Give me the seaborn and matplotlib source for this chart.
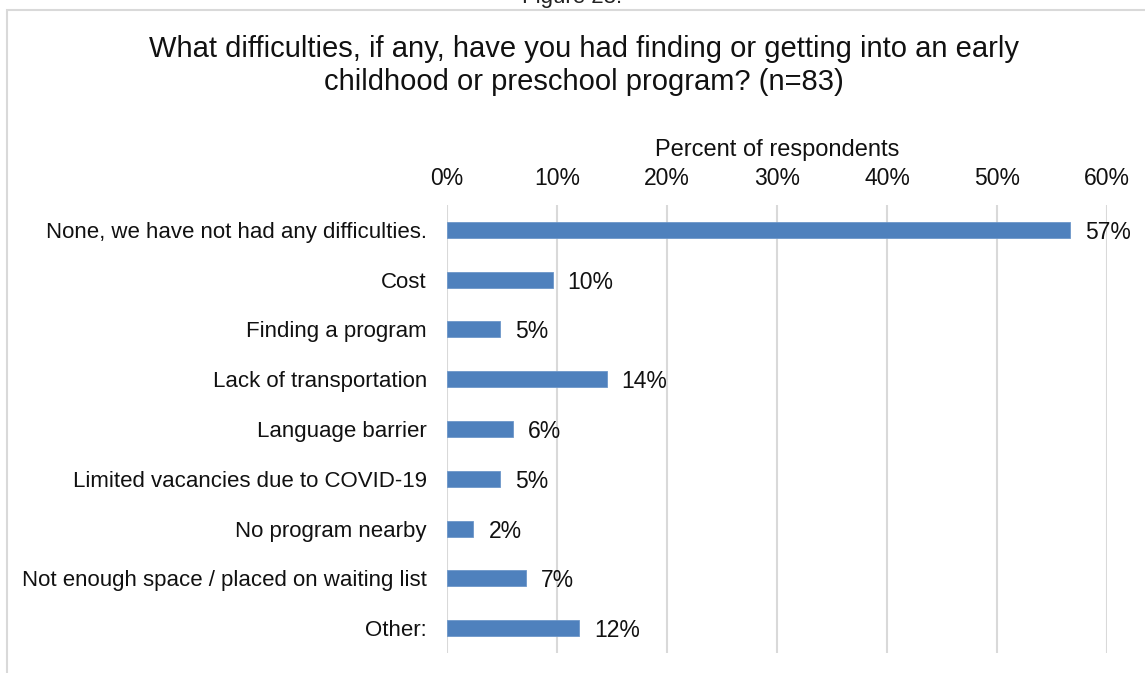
import matplotlib
matplotlib.use("Agg")
import matplotlib.pyplot as plt
import seaborn as sns
import pandas as pd
from matplotlib.ticker import FuncFormatter
from matplotlib.patches import Rectangle

categories = [
    "None, we have not had any difficulties.",
    "Cost",
    "Finding a program",
    "Lack of transportation",
    "Language barrier",
    "Limited vacancies due to COVID-19",
    "No program nearby",
    "Not enough space / placed on waiting list",
    "Other:",
]
percent = [56.6, 9.6, 4.8, 14.5, 6.0, 4.8, 2.4, 7.2, 12.0]
x_ticks = [0, 10, 20, 30, 40, 50, 60]

df = pd.DataFrame({"category": categories, "percent": percent})

sns.set_theme(style="white")
plt.rcParams["font.family"] = ["Liberation Sans", "DejaVu Sans"]

W, H = 1145, 673
fig = plt.figure(figsize=(W / 100, H / 100), dpi=100)
fig.patch.set_facecolor("white")

# outer frame of the chart area
fig.add_artist(Rectangle((7 / W, -0.1), 1.2, 1 - 10 / H + 0.1,
                         transform=fig.transFigure, fill=False,
                         edgecolor="#d9d9d9", linewidth=1.5))
fig.text(572 / W, 1 + 2 / H, "Figure 28.", ha="center", va="center",
         fontsize=16, color="#222222")

ax = fig.add_axes([447 / W, 1 - 653 / H, 660 / W, 448 / H])
sns.barplot(data=df, x="percent", y="category", orient="h", color="#4f81bd",
            width=0.32, saturation=1, ax=ax, edgecolor="#6d97c9", linewidth=0.6,
            zorder=3)

ax.set_xlim(0, 60)
ax.set_ylim(8.5, -0.5)
ax.set_xticks(x_ticks)
ax.xaxis.set_major_formatter(FuncFormatter(lambda v, p: f"{v:.0f}%"))
ax.xaxis.tick_top()
ax.xaxis.set_label_position("top")
ax.set_xlabel("Percent of respondents", fontsize=17, color="#111111", labelpad=8)
ax.set_ylabel("")
ax.tick_params(axis="x", length=0, pad=11, labelsize=16.5, labelcolor="#111111")
ax.tick_params(axis="y", length=0, pad=14.5, labelsize=16, labelcolor="#111111")
ax.grid(axis="x", color="#d9d9d9", linewidth=1.5, zorder=0)
ax.grid(axis="y", visible=False)
for s in ax.spines.values():
    s.set_visible(False)

for i, v in enumerate(percent):
    ax.text(v + 15 / 11, i, f"{v:.0f}%", va="center_baseline", ha="left",
            fontsize=16.5, color="#111111")

fig.text(584 / W, 1 - 49 / H,
         "What difficulties, if any, have you had finding or getting into an early",
         ha="center", va="center", fontsize=21, color="#111111")
fig.text(584 / W, 1 - 82 / H, "childhood or preschool program? (n=83)",
         ha="center", va="center", fontsize=21, color="#111111")

fig.savefig("out.png", dpi=100)
